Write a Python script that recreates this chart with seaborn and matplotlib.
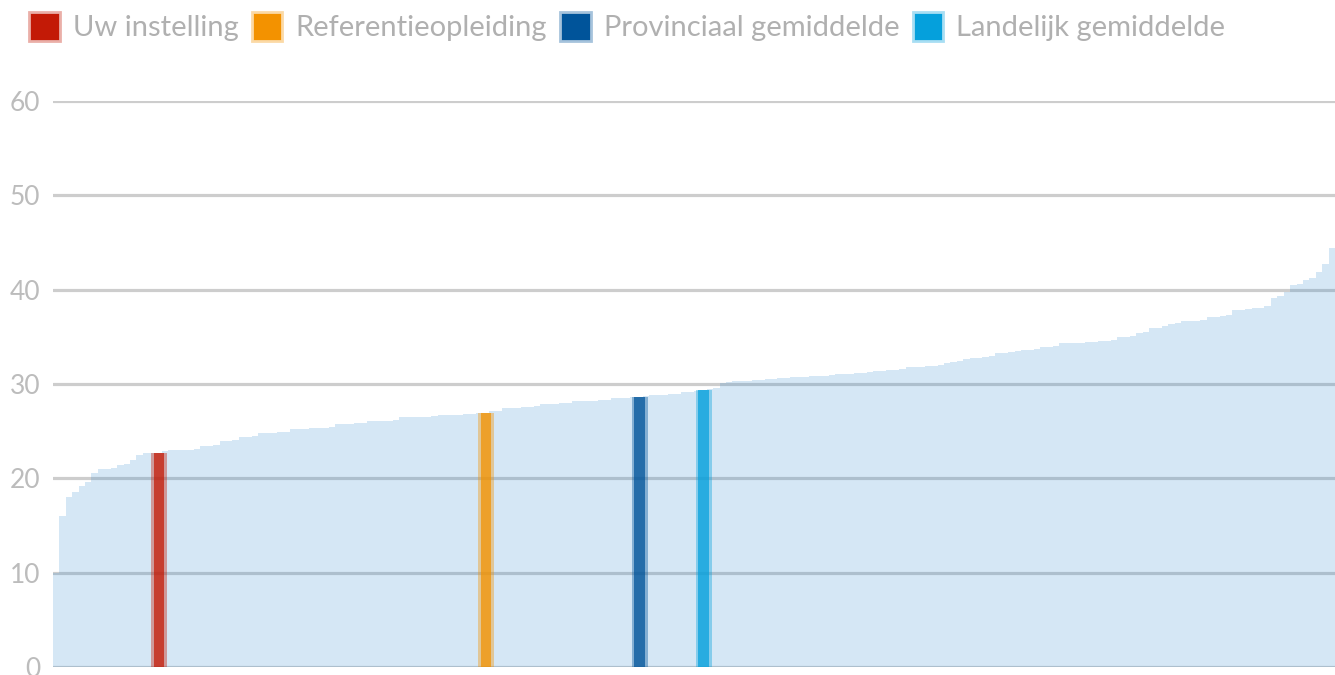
import numpy as np
import pandas as pd
import matplotlib
matplotlib.use("Agg")
import matplotlib.pyplot as plt
from matplotlib.patches import Patch
from matplotlib.colors import to_rgb
import seaborn as sns

# sorted scores of all institutions (one bar each)
scores = [
    10.0, 16.0, 18.0, 18.6, 19.2, 19.6, 20.6, 21.0, 21.0, 21.1,
    21.4, 21.5, 21.9, 22.5, 22.7, 22.7, 22.7, 22.9, 23.0, 23.0,
    23.0, 23.0, 23.1, 23.4, 23.4, 23.5, 24.0, 24.0, 24.1, 24.4,
    24.4, 24.5, 24.8, 24.8, 24.8, 24.9, 24.9, 25.2, 25.2, 25.2,
    25.3, 25.3, 25.3, 25.4, 25.8, 25.8, 25.8, 25.9, 25.9, 26.1,
    26.1, 26.1, 26.1, 26.2, 26.5, 26.5, 26.5, 26.5, 26.5, 26.6,
    26.7, 26.7, 26.7, 26.7, 26.8, 26.8, 26.9, 26.9, 27.1, 27.1,
    27.5, 27.5, 27.5, 27.6, 27.6, 27.7, 27.9, 27.9, 27.9, 28.0,
    28.0, 28.2, 28.2, 28.2, 28.2, 28.3, 28.3, 28.5, 28.5, 28.5,
    28.6, 28.6, 28.7, 28.8, 28.8, 28.8, 28.9, 28.9, 29.2, 29.2,
    29.3, 29.4, 29.5, 29.6, 30.1, 30.2, 30.3, 30.3, 30.3, 30.4,
    30.4, 30.5, 30.5, 30.6, 30.6, 30.7, 30.7, 30.7, 30.8, 30.8,
    30.9, 31.0, 31.1, 31.1, 31.1, 31.2, 31.2, 31.3, 31.4, 31.4,
    31.5, 31.5, 31.6, 31.8, 31.8, 31.8, 31.9, 31.9, 32.0, 32.2,
    32.3, 32.4, 32.6, 32.8, 32.8, 32.9, 33.0, 33.3, 33.3, 33.4,
    33.5, 33.6, 33.6, 33.7, 33.9, 33.9, 34.0, 34.3, 34.3, 34.3,
    34.3, 34.4, 34.5, 34.6, 34.6, 34.7, 35.0, 35.0, 35.1, 35.4,
    35.5, 35.9, 35.9, 36.1, 36.4, 36.5, 36.7, 36.7, 36.7, 36.8,
    37.1, 37.1, 37.2, 37.3, 37.8, 37.8, 37.9, 38.1, 38.1, 38.3,
    39.1, 39.3, 39.7, 40.5, 40.6, 41.0, 41.2, 41.9, 42.7, 44.4,
]

# highlighted entries: label, rank in the sorted list, value, colour
hl_labels = ["Uw instelling", "Referentieopleiding", "Provinciaal gemiddelde", "Landelijk gemiddelde"]
hl_rank = [16, 67, 91, 101]
hl_value = [22.7, 26.9, 28.6, 29.4]
hl_colors = ["#c31a06", "#f39200", "#00549a", "#05a0dc"]

y_ticks = [0, 10, 20, 30, 40, 50, 60]

sns.set_style("white")
plt.rcParams["font.family"] = ["Lato", "DejaVu Sans"]

df = pd.DataFrame({"rank": np.arange(len(scores)), "score": scores})

fig = plt.figure(figsize=(13.35, 6.75), dpi=100)
ax = fig.add_axes([53 / 1335, 8 / 675, 1 - 53 / 1335, (667 - 101) / 675])

sns.barplot(data=df, x="rank", y="score", color="#3a8fd0", alpha=0.21,
            saturation=1, width=1.0, linewidth=0, ax=ax)

for r, v, c in zip(hl_rank, hl_value, hl_colors):
    ax.bar(r, v, width=2.5, color=c, alpha=0.38, linewidth=0, zorder=3)
    ax.bar(r, v, width=1.6, color=c, alpha=0.72, linewidth=0, zorder=4)

ax.set_xlim(-0.5, len(scores) - 0.5)
ax.set_ylim(0, 60)
ax.set_yticks(y_ticks)
ax.set_xticks([])
ax.set_xlabel("")
ax.set_ylabel("")
ax.set_axisbelow(True)
ax.yaxis.grid(True, color="#cdcdcd", linewidth=2.3)
ax.tick_params(axis="y", length=0, pad=9, labelsize=19, labelcolor="#bcbcbc")
sns.despine(ax=ax, left=True, bottom=True)


def tint(c, k=0.65):
    rgb = np.array(to_rgb(c))
    return tuple(rgb + (1 - rgb) * k)


handles = [Patch(facecolor=c, edgecolor=tint(c), linewidth=2) for c in hl_colors]
fig.legend(handles, hl_labels, loc="upper left", bbox_to_anchor=(29 / 1335, 1 - 12 / 675),
           ncol=4, frameon=False, fontsize=21, labelcolor="#b0b0b0",
           handlelength=1.05, handleheight=1.15, handletextpad=0.45,
           columnspacing=0.45, borderaxespad=0, borderpad=0)

fig.savefig("out.png", dpi=100)
